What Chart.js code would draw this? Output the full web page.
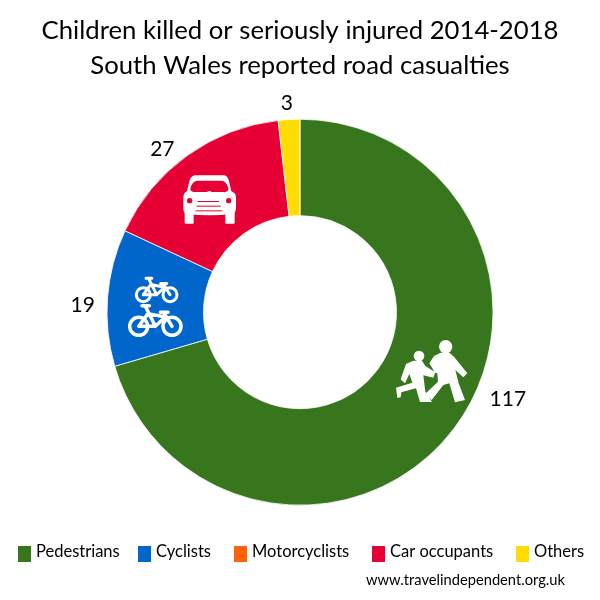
<!DOCTYPE html>
<html>
<head>
<meta charset="utf-8">
<title>Children killed or seriously injured</title>
<script src="https://cdn.jsdelivr.net/npm/chart.js@4"></script>
<style>
html,body{margin:0;padding:0;background:#fff;}
#wrap{width:600px;height:600px;position:relative;}
</style>
</head>
<body>
<div id="wrap"><canvas id="roadChart" width="600" height="600"></canvas></div>
<script>
const categories = ["Pedestrians","Cyclists","Motorcyclists","Car occupants","Others"];
const casualties = [117,19,0,27,3];
const sliceColours = ["#38761d","#0066cc","#ff6309","#e60033","#ffdd00"];
const titleLines = ["Children killed or seriously injured 2014-2018","South Wales reported road casualties"];
const sourceText = "www.travelindependent.org.uk";

// nudges for the hand placed value labels, from the centre of each slice
const labelNudge = [[92,0],[-73,4],null,[-53,-46],[-5,-64]];
// the legend in the original is not evenly spaced
const legendX = [18,138,234,372,516];

function drawChildren(ctx){
    const poly = pts => {
        ctx.beginPath();
        pts.forEach((p,i) => i ? ctx.lineTo(380+p[0]/3,320+p[1]/3) : ctx.moveTo(380+p[0]/3,320+p[1]/3));
        ctx.closePath();
        ctx.fill();
    };
    const head = (x,y,r) => {
        ctx.beginPath();
        ctx.arc(380+x/3,320+y/3,r/3,0,Math.PI*2);
        ctx.fill();
    };
    head(197,80,20);
    poly([[182,98],[162,108],[148,130],[165,158],[172,160],[174,185],[135,222],[155,240],[190,195],[208,190],[225,247],[255,240],[236,190],[226,150],[250,172],[262,160],[222,110],[208,98]]);
    head(117,108,16);
    poly([[100,122],[78,132],[62,178],[75,190],[88,162],[97,188],[48,203],[52,234],[62,232],[64,217],[108,205],[120,246],[156,246],[136,215],[130,166],[160,173],[166,157],[136,138],[126,122]]);
}

function drawCar(ctx){
    ctx.save();
    ctx.translate(175,168);
    ctx.scale(1/3,1/3);
    ctx.fillStyle = "#fff";
    ctx.beginPath();
    ctx.moveTo(60,22);
    ctx.lineTo(148,22);
    ctx.quadraticCurveTo(160,24,164,48);
    ctx.lineTo(169,70);
    ctx.quadraticCurveTo(183,74,183,90);
    ctx.lineTo(183,122);
    ctx.quadraticCurveTo(182,134,172,138);
    ctx.quadraticCurveTo(104,146,34,138);
    ctx.quadraticCurveTo(25,134,25,122);
    ctx.lineTo(25,90);
    ctx.quadraticCurveTo(25,74,36,70);
    ctx.lineTo(41,48);
    ctx.quadraticCurveTo(45,24,60,22);
    ctx.fill();
    ctx.beginPath();
    ctx.roundRect(29,125,27,42,3);
    ctx.roundRect(151,125,28,42,3);
    ctx.fill();
    ctx.fillStyle = sliceColours[3];
    ctx.beginPath();
    ctx.moveTo(66,38);
    ctx.lineTo(142,38);
    ctx.quadraticCurveTo(154,40,160,60);
    ctx.quadraticCurveTo(161,71,150,72);
    ctx.lineTo(110,72);
    ctx.quadraticCurveTo(103,66,96,72);
    ctx.lineTo(56,72);
    ctx.quadraticCurveTo(45,71,46,60);
    ctx.quadraticCurveTo(52,40,66,38);
    ctx.fill();
    [44,161].forEach(x => {
        ctx.beginPath();
        ctx.arc(x,98,8,0,Math.PI*2);
        ctx.fill();
    });
    ctx.fillRect(68,99,64,3);
    ctx.fillRect(65,113,72,3);
    ctx.fillRect(62,127,80,3);
    ctx.restore();
}

function drawBike(ctx,rx,fx,y,r,lw){
    const L = fx-rx;
    const seg = (x1,y1,x2,y2) => {
        ctx.moveTo(rx+x1*L,y+y1*L);
        ctx.lineTo(rx+x2*L,y+y2*L);
    };
    ctx.save();
    ctx.strokeStyle = "#fff";
    ctx.lineWidth = lw;
    ctx.lineCap = "round";
    [rx,fx].forEach(x => {
        ctx.beginPath();
        ctx.arc(x,y,r,0,Math.PI*2);
        ctx.stroke();
    });
    ctx.beginPath();
    seg(0,0,.5,0);
    seg(.2,-.6,.5,0);
    seg(0,0,.28,-.38);
    seg(.28,-.38,.8,-.28);
    seg(.8,-.28,.5,0);
    seg(1,0,.75,-.42);
    seg(.65,-.42,.88,-.42);
    seg(.1,-.62,.32,-.62);
    ctx.stroke();
    ctx.restore();
}

const annotations = {
    id:"annotations",
    afterDatasetsDraw(chart){
        const ctx = chart.ctx;
        ctx.save();
        ctx.fillStyle = "#fff";
        drawChildren(ctx);
        drawCar(ctx);
        drawBike(ctx,143.3,170,294.7,7,3);
        drawBike(ctx,138.7,172,326.3,9,3.5);
        // value labels
        const arcs = chart.getDatasetMeta(0).data;
        ctx.fillStyle = "#000";
        ctx.font = "21px Lato";
        ctx.textAlign = "center";
        ctx.textBaseline = "middle";
        casualties.forEach((v,i) => {
            if(!v) return;
            const c = arcs[i].getCenterPoint();
            ctx.fillText(String(v),c.x+labelNudge[i][0],c.y+labelNudge[i][1]);
        });
        // legend
        ctx.font = "16.5px Lato";
        ctx.textAlign = "left";
        categories.forEach((name,i) => {
            ctx.fillStyle = sliceColours[i];
            ctx.fillRect(legendX[i],546,13,16);
            ctx.fillStyle = "#000";
            ctx.fillText(name,legendX[i]+18,552);
        });
        ctx.font = "14.7px Lato";
        ctx.fillText(sourceText,366,580);
        ctx.restore();
    }
};

new Chart(document.getElementById("roadChart"),{
    type:"doughnut",
    data:{
        labels:categories,
        datasets:[{
            data:casualties,
            backgroundColor:sliceColours,
            borderColor:"#fff",
            borderWidth:0.8
        }]
    },
    options:{
        responsive:false,
        animation:false,
        radius:193,
        cutout:"50%",
        layout:{padding:{top:14,bottom:76}},
        plugins:{
            title:{
                display:true,
                text:titleLines,
                color:"#000",
                font:{family:"Lato",size:25.7,weight:"normal",lineHeight:1.33},
                padding:{top:0,bottom:18}
            },
            legend:{display:false},
            tooltip:{enabled:false}
        }
    },
    plugins:[annotations]
});
</script>
</body>
</html>
